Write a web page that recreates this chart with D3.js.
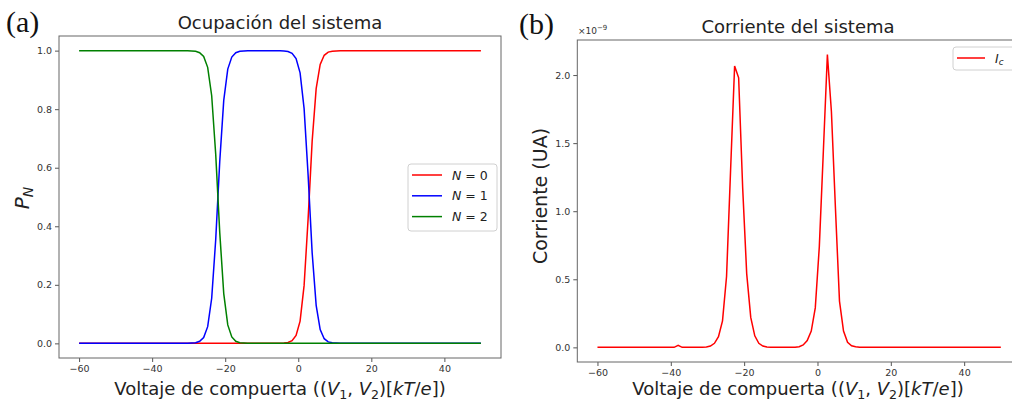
<!DOCTYPE html>
<html>
<head>
<meta charset="utf-8">
<script src="https://cdn.jsdelivr.net/npm/d3@7"></script>
<style>
  body { margin: 0; background: #fff; }
</style>
</head>
<body>
<div id="chart"></div>
<script>
// ---- data ----
// (a) occupation probabilities, sampled where the curves move (flat parts are straight lines)
const occVoltage = [-60, -31.4, -30.3, -29.2, -28.1, -27.0, -25.9, -24.8, -23.7, -22.6, -21.5, -20.4, -19.3, -18.2, -17.1, -16.0, -14.9, -13.8,
                    -6.1, -5.0, -3.9, -2.8, -1.7, -0.6, 0.5, 1.6, 2.7, 3.8, 4.9, 6.0, 7.1, 8.2, 9.3, 10.4, 11.5, 50];
const occN0 = [0, 0, 0, 0, 0, 0, 0, 0, 0, 0, 0, 0, 0, 0, 0, 0, 0, 0,
               0, 0, 0.001, 0.003, 0.009, 0.027, 0.076, 0.198, 0.426, 0.69, 0.87, 0.953, 0.984, 0.995, 0.998, 0.999, 1, 1];
const occN1 = [0, 0, 0, 0.001, 0.002, 0.007, 0.02, 0.057, 0.154, 0.354, 0.62, 0.83, 0.937, 0.978, 0.993, 0.998, 0.999, 1,
               1, 1, 0.999, 0.997, 0.991, 0.973, 0.924, 0.802, 0.574, 0.31, 0.13, 0.047, 0.016, 0.005, 0.002, 0.001, 0, 0];
const occN2 = [1, 1, 1, 0.999, 0.998, 0.993, 0.98, 0.943, 0.846, 0.646, 0.38, 0.17, 0.063, 0.022, 0.007, 0.002, 0.001, 0,
               0, 0, 0, 0, 0, 0, 0, 0, 0, 0, 0, 0, 0, 0, 0, 0, 0, 0];
const occNames = ['0', '1', '2'];
const occColors = ['#ff0000', '#0000ff', '#008000'];

// (b) current, in units of 1e-9
const curVoltage = [-60, -39.1, -38.0, -36.9, -31.4, -30.3, -29.2, -28.1, -27.0, -25.9, -24.8, -23.7, -22.6, -21.5, -20.4, -19.3, -18.2, -17.1,
                    -16.0, -14.9, -13.8, -12.7, -6.1, -5.0, -3.9, -2.8, -1.7, -0.6, 0.5, 1.6, 2.7, 3.8, 4.9, 6.0, 7.1, 8.2, 9.3, 10.4, 11.5, 50];
const curValue = [0, 0, 0.015, 0, 0, 0.003, 0.01, 0.03, 0.078, 0.195, 0.52, 1.30, 2.066, 1.98, 1.17, 0.54, 0.22, 0.085,
                  0.03, 0.01, 0.003, 0, 0, 0.005, 0.018, 0.05, 0.12, 0.29, 0.74, 1.44, 2.15, 1.73, 1.02, 0.34, 0.12, 0.037, 0.012, 0.004, 0, 0];

const xTicks = [-60, -40, -20, 0, 20, 40];
const occTicks = [0, 0.2, 0.4, 0.6, 0.8, 1.0];
const curTicks = [0, 0.5, 1.0, 1.5, 2.0];

// ---- canvas ----
const width = 1012, height = 406;
const svg = d3.select('#chart').append('svg')
  .attr('width', width).attr('height', height)
  .style('font-family', '"DejaVu Sans", sans-serif');

// text made of pieces: {t, i: italic, sub: subscript}
const rich = (sel, parts, size) => {
  const shift = size * 0.22;
  let down = false;
  parts.forEach(p => {
    const ts = sel.append('tspan').text(p.t);
    if (p.i) ts.style('font-style', 'italic');
    if (p.sub) {
      ts.attr('font-size', size * 0.7);
      if (!down) { ts.attr('dy', shift); down = true; }
    } else if (down) {
      ts.attr('dy', -shift); down = false;
    }
  });
  return sel;
};

const voltLabel = [
  {t: 'Voltaje de compuerta (('}, {t: 'V', i: 1}, {t: '1', sub: 1}, {t: ', '}, {t: 'V', i: 1}, {t: '2', sub: 1},
  {t: ')['}, {t: 'kT', i: 1}, {t: '/'}, {t: 'e', i: 1}, {t: '])'}
];

// generic panel: frame, ticks, title, x label
const panel = (box, yDomain, yTicks, yFmt, title) => {
  const x = d3.scaleLinear().domain([-65.5, 55.5]).range([box.left, box.right]);
  const y = d3.scaleLinear().domain(yDomain).range([box.bottom, box.top]);
  const g = svg.append('g');

  const xAxis = g.append('g').attr('transform', `translate(0,${box.bottom})`)
    .call(d3.axisBottom(x).tickValues(xTicks).tickSize(4).tickPadding(3).tickFormat(d3.format('.0f')));
  const yAxis = g.append('g').attr('transform', `translate(${box.left},0)`)
    .call(d3.axisLeft(y).tickValues(yTicks).tickSize(4).tickPadding(3).tickFormat(d3.format(yFmt)));
  [xAxis, yAxis].forEach(a => {
    a.select('.domain').remove();
    a.selectAll('line').attr('stroke', '#555');
    a.selectAll('text').attr('fill', '#333').style('font-size', '9.5px').style('font-family', '"DejaVu Sans", sans-serif');
  });

  g.append('rect')
    .attr('x', box.left).attr('y', box.top)
    .attr('width', box.right - box.left).attr('height', box.bottom - box.top)
    .attr('fill', 'none').attr('stroke', '#666').attr('stroke-width', 1);

  g.append('text').attr('x', box.cx).attr('y', box.top - 7)
    .attr('text-anchor', 'middle').attr('fill', '#222').style('font-size', '18px').text(title);

  rich(g.append('text').attr('x', box.cx).attr('y', 395)
    .attr('text-anchor', 'middle').attr('fill', '#222').style('font-size', '18px'), voltLabel, 18);

  return {x, y, g};
};

// ---- (a) occupation ----
const A = panel({left: 59, right: 501, top: 36, bottom: 358, cx: 280}, [-0.05, 1.05], occTicks, '.1f', 'Ocupación del sistema');
const occSeries = [occN0, occN1, occN2];
const occLine = d3.line().x(d => A.x(d[0])).y(d => A.y(d[1]));
A.g.selectAll('path.occ')
  .data(occSeries)
  .enter().append('path')
    .attr('class', 'occ')
    .attr('d', s => occLine(occVoltage.map((v, i) => [v, s[i]])))
    .attr('fill', 'none')
    .attr('stroke', (s, i) => occColors[i])
    .attr('stroke-width', 1.5);

rich(svg.append('text').attr('transform', 'translate(29,198) rotate(-90)')
  .attr('text-anchor', 'middle').attr('fill', '#222').style('font-size', '20px'),
  [{t: 'P', i: 1}, {t: 'N', i: 1, sub: 1}], 20);

// legend (a)
const legA = svg.append('g').attr('transform', 'translate(408,164)');
legA.append('rect').attr('width', 89).attr('height', 67).attr('rx', 3)
  .attr('fill', '#fff').attr('fill-opacity', 0.8).attr('stroke', '#d0d0d0');
const rowsA = legA.selectAll('g.row').data(occNames).enter().append('g')
  .attr('class', 'row').attr('transform', (d, i) => `translate(0,${11 + i * 20.8})`);
rowsA.append('line').attr('x1', 4).attr('x2', 34)
  .attr('stroke', (d, i) => occColors[i]).attr('stroke-width', 1.5);
rowsA.append('text').attr('x', 44).attr('y', 4.5).attr('fill', '#222').style('font-size', '12.5px')
  .each(function(d) { rich(d3.select(this), [{t: 'N', i: 1}, {t: ' = ' + d}], 12.5); });

// ---- (b) current ----
const B = panel({left: 577.3, right: 1021, top: 40, bottom: 362, cx: 798}, [-0.1075, 2.2575], curTicks, '.1f', 'Corriente del sistema');
B.g.append('path')
  .datum(curVoltage.map((v, i) => [v, curValue[i]]))
  .attr('d', d3.line().x(d => B.x(d[0])).y(d => B.y(d[1])))
  .attr('fill', 'none').attr('stroke', '#ff0000').attr('stroke-width', 1.5);

svg.append('text').attr('transform', 'translate(547,196) rotate(-90)')
  .attr('text-anchor', 'middle').attr('fill', '#222').style('font-size', '19px').text('Corriente (UA)');

// offset text
const off = svg.append('text').attr('x', 578).attr('y', 34).attr('fill', '#333').style('font-size', '9px');
off.append('tspan').text('×10');
off.append('tspan').attr('dy', -4).style('font-size', '7px').text('−9');

// legend (b)
const legB = svg.append('g').attr('transform', 'translate(953,47)');
legB.append('rect').attr('width', 80).attr('height', 23).attr('rx', 3)
  .attr('fill', '#fff').attr('fill-opacity', 0.8).attr('stroke', '#d0d0d0');
legB.append('line').attr('x1', 4).attr('x2', 32).attr('y1', 11).attr('y2', 11)
  .attr('stroke', '#ff0000').attr('stroke-width', 1.5);
rich(legB.append('text').attr('x', 42).attr('y', 15.5).attr('fill', '#222').style('font-size', '12.5px'),
  [{t: 'I', i: 1}, {t: 'c', i: 1, sub: 1}], 12.5);

// panel letters
svg.append('text').attr('x', 6).attr('y', 32).style('font-family', '"Liberation Serif", serif')
  .style('font-size', '30px').attr('fill', '#111').text('(a)');
svg.append('text').attr('x', 519).attr('y', 34).style('font-family', '"Liberation Serif", serif')
  .style('font-size', '30px').attr('fill', '#111').text('(b)');
</script>
</body>
</html>
